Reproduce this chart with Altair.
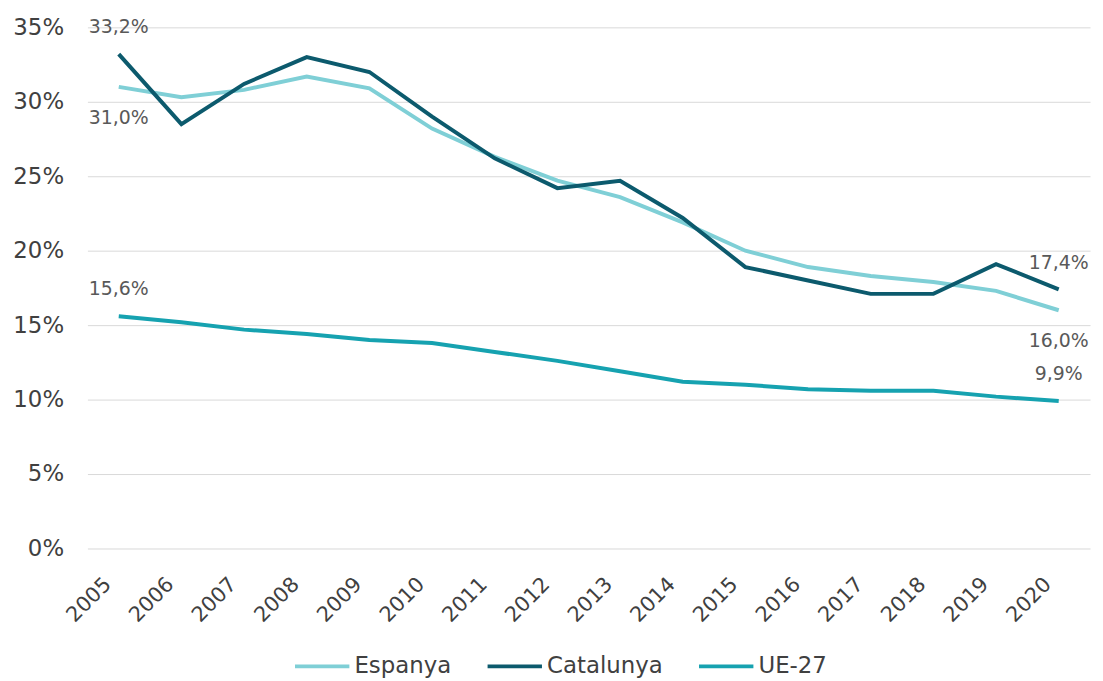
import altair as alt
import pandas as pd

years = [str(y) for y in range(2005, 2021)]
espanya = [31.0, 30.3, 30.8, 31.7, 30.9, 28.2, 26.3, 24.7, 23.6, 21.9, 20.0, 18.9, 18.3, 17.9, 17.3, 16.0]
catalunya = [33.2, 28.5, 31.2, 33.0, 32.0, 29.0, 26.2, 24.2, 24.7, 22.2, 18.9, 18.0, 17.1, 17.1, 19.1, 17.4]
ue27 = [15.6, 15.2, 14.7, 14.4, 14.0, 13.8, 13.2, 12.6, 11.9, 11.2, 11.0, 10.7, 10.6, 10.6, 10.2, 9.9]
series_names = ["Espanya", "Catalunya", "UE-27"]
series_colors = ["#7fcfd6", "#0c5a6d", "#16a2b0"]

rows = []
for name, vals in zip(series_names, [espanya, catalunya, ue27]):
    for y, v in zip(years, vals):
        rows.append({"year": y, "value": v, "series": name})
df = pd.DataFrame(rows)

# data labels at first and last points; Espanya labels below the line, others above
lab_rows = []
for name, vals in zip(series_names, [espanya, catalunya, ue27]):
    for idx in (0, -1):
        lab_rows.append({"year": years[idx], "value": vals[idx], "series": name,
                         "text": f"{vals[idx]:.1f}%".replace(".", ","),
                         "pos": "below" if name == "Espanya" else "above"})
labs = pd.DataFrame(lab_rows)

x_enc = alt.X("year:N", sort=years, title=None,
              scale=alt.Scale(paddingInner=1, paddingOuter=0.5),
              axis=alt.Axis(labelAngle=-45, labelFontSize=21, labelColor="#404040",
                            labelFont="DejaVu Sans", domain=False, ticks=False,
                            labelPadding=25, labelOffset=-19, grid=False))
y_enc = alt.Y("value:Q", title=None,
              scale=alt.Scale(domain=[0, 35], nice=False),
              axis=alt.Axis(values=[0, 5, 10, 15, 20, 25, 30, 35],
                            labelExpr="datum.value + '%'", labelFontSize=23,
                            labelColor="#404040", labelFont="DejaVu Sans",
                            domain=False, ticks=False, labelPadding=24,
                            gridColor="#d9d9d9", gridWidth=1))

lines = alt.Chart(df).mark_line(strokeWidth=4).encode(
    x=x_enc, y=y_enc,
    color=alt.Color("series:N", sort=series_names,
                    scale=alt.Scale(domain=series_names, range=series_colors),
                    legend=alt.Legend(title=None, orient="none", direction="horizontal",
                                      legendX=207, legendY=614,
                                      symbolType="stroke", symbolSize=3000,
                                      symbolStrokeWidth=4, labelFontSize=23,
                                      labelFont="DejaVu Sans", labelColor="#404040",
                                      columnPadding=28, labelOffset=3)),
    order=alt.Order("series:N"),
)

above = alt.Chart(labs).transform_filter("datum.pos == 'above'").mark_text(
    fontSize=19, font="DejaVu Sans", color="#595959", dy=-27, baseline="middle").encode(
    x=alt.X("year:N", sort=years), y=alt.Y("value:Q"), text="text:N")
below = alt.Chart(labs).transform_filter("datum.pos == 'below'").mark_text(
    fontSize=19, font="DejaVu Sans", color="#595959", dy=31, baseline="middle").encode(
    x=alt.X("year:N", sort=years), y=alt.Y("value:Q"), text="text:N")

chart = alt.layer(lines, above, below).properties(
    width=1010, height=525,
    autosize=alt.AutoSizeParams(type="none"),
    padding={"left": 80, "top": 17, "right": 5, "bottom": 131},
).configure_view(stroke=None)

chart.save("out.html", embed_options={"renderer": "svg", "actions": False})
